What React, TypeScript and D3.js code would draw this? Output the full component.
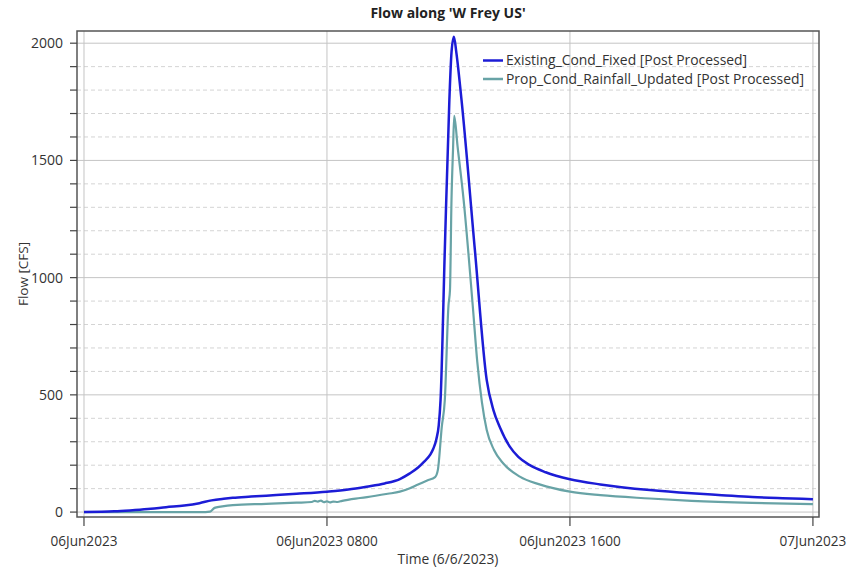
import React from "react";
import * as d3 from "d3";

// hours after 06Jun2023 0000
const existingHours = [0, 1.0, 1.6, 2.2, 2.7, 3.3, 3.8, 4.2, 4.6, 4.9, 5.5, 6.0, 7.0, 8.0, 8.7, 9.3, 9.9, 10.4, 10.73, 11.0, 11.2, 11.4, 11.5, 11.6, 11.68, 11.74, 11.88, 12.03, 12.1, 12.18, 12.26, 12.43, 12.87, 13.26, 13.48, 13.7, 14.02, 14.3, 14.68, 15.2, 16.0, 17.0, 18.63, 20.0, 21.0, 22.0, 23.0, 24.0];
const existingFlow = [0, 3, 8, 14, 21, 28, 38, 50, 57, 61, 66, 70, 78, 87, 96, 108, 122, 141, 165, 190, 215, 245, 270, 310, 370, 478, 1118, 1758, 1960, 2028, 1960, 1758, 1118, 563, 435, 360, 279, 235, 200, 170, 140, 118, 94, 80, 72, 64, 59, 55];

const proposedHours = [0, 4.0, 4.15, 4.3, 4.5, 4.9, 6.0, 7.0, 7.5, 7.6, 7.7, 7.8, 7.9, 8.0, 8.1, 8.2, 8.35, 8.5, 9.09, 9.32, 10.0, 10.4, 10.73, 11.0, 11.3, 11.56, 11.65, 11.78, 11.88, 12.0, 12.05, 12.1, 12.15, 12.19, 12.3, 12.5, 12.8, 12.95, 13.1, 13.26, 13.5, 13.8, 14.35, 15.0, 16.0, 17.0, 18.63, 20.0, 22.0, 24.0];
const proposedFlow = [0, 0, 2, 18, 23, 30, 35, 40, 43, 48, 45, 49, 42, 46, 41, 45, 43, 48, 60, 64, 78, 87, 102, 118, 135, 149, 179, 363, 478, 880, 947, 1331, 1544, 1690, 1560, 1331, 880, 640, 470, 350, 265, 208, 151, 118, 87, 72, 58, 48, 39, 34];

const xTickHours = [0, 8, 16, 24];
const xTickLabels = ["06Jun2023", "06Jun2023 0800", "06Jun2023 1600", "07Jun2023"];
const yMajorTicks = [0, 500, 1000, 1500, 2000];
const yMinorTicks = [100, 200, 300, 400, 600, 700, 800, 900, 1100, 1200, 1300, 1400, 1600, 1700, 1800, 1900];

const seriesNames = ["Existing_Cond_Fixed [Post Processed]", "Prop_Cond_Rainfall_Updated [Post Processed]"];
const seriesColors = ["#1c1cd6", "#68a3a6"];

const W = 851;
const H = 571;
const left = 77, right = 819, top = 31, bottom = 517;
const font = "'Open Sans', 'Noto Sans', sans-serif";

export default function App() {
  const x = d3.scaleLinear().domain([-0.23, 24.2]).range([left, right]);
  const y = d3.scaleLinear().domain([-21, 2052]).range([bottom, top]);

  const line = d3.line<[number, number]>().x(d => x(d[0])).y(d => y(d[1])).curve(d3.curveMonotoneX);
  const existing = existingHours.map((h, i) => [h, existingFlow[i]] as [number, number]);
  const proposed = proposedHours.map((h, i) => [h, proposedFlow[i]] as [number, number]);

  return (
    <svg width={W} height={H} style={{ position: "absolute", left: 0, top: 0, background: "#fff" }} fontFamily={font}>
      <rect x={0} y={0} width={W} height={H} fill="#fff" />
      <text x={(left + right) / 2} y={18} textAnchor="middle" fontSize={14} fontWeight="bold" fill="#222">Flow along 'W Frey US'</text>

      {/* grid */}
      {yMinorTicks.map(v => (
        <line key={"mn" + v} x1={left} x2={right} y1={y(v)} y2={y(v)} stroke="#d4d4d4" strokeDasharray="4,3" />
      ))}
      {yMajorTicks.map(v => (
        <line key={"mj" + v} x1={left} x2={right} y1={y(v)} y2={y(v)} stroke="#c4c4c4" />
      ))}
      {xTickHours.map(h => (
        <line key={"vx" + h} x1={x(h)} x2={x(h)} y1={top} y2={bottom} stroke="#c4c4c4" />
      ))}

      {/* series */}
      <path d={line(proposed) || ""} fill="none" stroke={seriesColors[1]} strokeWidth={2.2} />
      <path d={line(existing) || ""} fill="none" stroke={seriesColors[0]} strokeWidth={2.5} />

      {/* frame */}
      <rect x={left} y={top} width={right - left} height={bottom - top} fill="none" stroke="#555" strokeWidth={1.5} />

      {/* y axis */}
      {yMinorTicks.concat(yMajorTicks).map(v => (
        <line key={"yt" + v} x1={left - 7} x2={left} y1={y(v)} y2={y(v)} stroke="#444" strokeWidth={1.2} />
      ))}
      {yMajorTicks.map(v => (
        <text key={"yl" + v} x={63} y={y(v)} dy="0.35em" textAnchor="end" fontSize={14} fill="#333">{v}</text>
      ))}
      <text transform={`translate(23,${(top + bottom) / 2}) rotate(-90)`} dy="0.35em" textAnchor="middle" fontSize={13.5} fill="#333">Flow [CFS]</text>

      {/* x axis */}
      {xTickHours.map((h, i) => (
        <g key={"xt" + h}>
          <line x1={x(h)} x2={x(h)} y1={bottom} y2={bottom + 9} stroke="#444" strokeWidth={1.2} />
          <text x={x(h)} y={546} textAnchor="middle" fontSize={13.6} fill="#333">{xTickLabels[i]}</text>
        </g>
      ))}
      <text x={(left + right) / 2} y={564} textAnchor="middle" fontSize={13.8} fill="#333">Time (6/6/2023)</text>

      {/* legend */}
      {seriesNames.map((name, i) => (
        <g key={name} transform={`translate(483,${60.5 + i * 18.5})`}>
          <line x1={0} x2={20} y1={0} y2={0} stroke={seriesColors[i]} strokeWidth={2.5} />
          <text x={23} y={0} dy="0.35em" fontSize={13.9} fill="#333">{name}</text>
        </g>
      ))}
    </svg>
  );
}
